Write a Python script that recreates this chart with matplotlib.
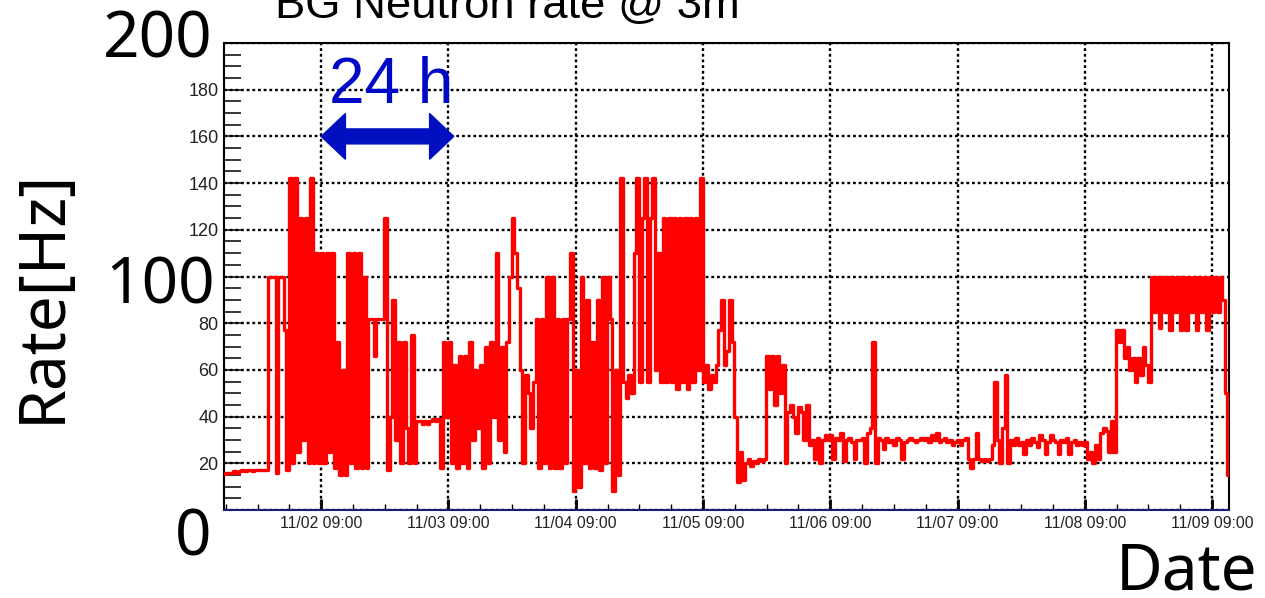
import numpy as np
import pandas as pd
import matplotlib
matplotlib.use('Agg')  # headless
import matplotlib.pyplot as plt
import matplotlib.dates as mdates
from matplotlib.patches import Polygon

plt.rcParams['font.family'] = ['Liberation Sans', 'DejaVu Sans']

# --- data: neutron rate [Hz], one reading every 30 min from 11/01 14:40 ---
start_time = '2016-11-01 14:40'
sample_step = '30min'
rate_hz = [
    15.5, 16, 16, 16, 16.5, 16, 16.5, 17, 16.5, 17, 17, 16.5,
    17, 17, 17, 17, 17, 100, 100, 100, 16, 100, 100, 77,
    17, 142, 20, 142, 25, 125, 30, 125, 20, 142, 20, 110,
    20, 110, 20, 110, 25, 110, 18, 72, 15, 60, 15, 110,
    20, 110, 18, 110, 18, 100, 18, 82, 82, 66, 82, 82,
    82, 125, 17, 40, 90, 30, 72, 20, 72, 35, 20, 75,
    20, 38, 38, 37, 38, 37, 38, 39, 38, 39, 18, 72,
    40, 72, 20, 62, 18, 66, 20, 66, 18, 72, 30, 60,
    35, 62, 18, 70, 20, 72, 40, 110, 30, 70, 25, 72,
    100, 125, 110, 95, 60, 20, 58, 50, 35, 55, 82, 18,
    82, 20, 100, 18, 100, 18, 82, 18, 82, 20, 82, 110,
    8, 60, 10, 100, 20, 90, 18, 72, 18, 90, 17, 100,
    20, 100, 82, 8, 60, 15, 142, 55, 48, 58, 50, 110,
    142, 55, 125, 142, 55, 125, 142, 60, 110, 55, 125, 55,
    125, 55, 125, 52, 125, 55, 125, 52, 125, 55, 125, 60,
    142, 55, 62, 52, 58, 55, 62, 77, 90, 62, 68, 90,
    72, 40, 12, 25, 13, 20, 22, 19, 21, 20, 22, 21,
    22, 66, 52, 66, 45, 66, 50, 62, 20, 42, 45, 40,
    33, 44, 42, 30, 45, 28, 30, 22, 31, 20, 30, 32,
    30, 32, 22, 31, 30, 33, 21, 30, 31, 29, 22, 30,
    30, 31, 20, 33, 35, 72, 20, 31, 30, 26, 31, 29,
    30, 28, 31, 30, 22, 29, 30, 31, 30, 29, 30, 31,
    30, 31, 29, 32, 30, 33, 29, 30, 31, 29, 30, 28,
    29, 30, 28, 30, 31, 22, 18, 22, 33, 22, 21, 22,
    21, 22, 28, 55, 30, 20, 35, 58, 20, 30, 28, 31,
    28, 29, 24, 30, 28, 31, 29, 27, 32, 30, 24, 29,
    32, 30, 29, 24, 30, 29, 31, 24, 29, 30, 28, 29,
    28, 29, 22, 25, 20, 28, 22, 33, 35, 34, 25, 38,
    25, 77, 72, 77, 65, 70, 60, 65, 55, 65, 58, 70,
    62, 55, 100, 85, 100, 78, 100, 85, 100, 77, 100, 85,
    100, 77, 100, 77, 100, 85, 100, 77, 100, 85, 100, 77,
    100, 85, 100, 85, 100, 90, 50, 15,
]

x_range = ['2016-11-01 14:40', '2016-11-09 12:12']
y_range = [0, 200]
y_major = list(range(0, 201, 20))
big_y_labels = ['200', '100', '0']
arrow_from = '2016-11-02 09:00'
arrow_hours = 25
arrow_level = 160

times = pd.date_range(start_time, periods=len(rate_hz), freq=sample_step)

W, H = 1265, 598
fig = plt.figure(figsize=(W / 100, H / 100), dpi=100)
ax = fig.add_axes([224 / W, 1 - 510 / H, (1229 - 224) / W, (510 - 43) / H])


def px(x, y):
    return x / W, 1 - y / H


ax.plot(times, rate_hz, color='#ff0000', lw=2.4, drawstyle='steps-mid', zorder=3)

ax.set_xlim(pd.Timestamp(x_range[0]), pd.Timestamp(x_range[1]))
ax.set_ylim(*y_range)

# ROOT style ticks and dotted grid
ax.xaxis.set_major_locator(mdates.HourLocator(byhour=[9]))
ax.xaxis.set_minor_locator(mdates.HourLocator(byhour=[3, 15, 21]))
ax.xaxis.set_major_formatter(mdates.DateFormatter('%m/%d %H:%M'))
ax.set_yticks(y_major)
ax.set_yticklabels(['' if v in (0, 100, 200) else str(v) for v in y_major])
ax.yaxis.set_minor_locator(matplotlib.ticker.MultipleLocator(5))

ax.tick_params(axis='y', which='both', direction='in', length=12, width=1.1,
               pad=4, labelsize=13, labelcolor='#222222')
ax.tick_params(axis='x', which='major', direction='in', length=8, width=2,
               pad=4, labelsize=11.3, labelcolor='#222222')
ax.tick_params(axis='x', which='minor', direction='in', length=4.5, width=1)

ax.grid(True, which='major', color='black', linestyle=(0, (1.2, 1.2)), linewidth=1.7)
for side in ['left', 'top', 'right']:
    ax.spines[side].set_linewidth(1.5)
    ax.spines[side].set_color('black')
ax.spines['bottom'].set_color('#1c1c78')
ax.spines['bottom'].set_linewidth(1.5)

# 24 h double arrow (data coords)
x0 = mdates.date2num(pd.Timestamp(arrow_from))
x1 = x0 + arrow_hours / 24
hl, hw, sw = 0.19, 9.8, 3.2
yc = arrow_level
arrow_pts = [(x0, yc), (x0 + hl, yc + hw), (x0 + hl, yc + sw), (x1 - hl, yc + sw),
             (x1 - hl, yc + hw), (x1, yc), (x1 - hl, yc - hw), (x1 - hl, yc - sw),
             (x0 + hl, yc - sw), (x0 + hl, yc - hw)]
ax.add_patch(Polygon(arrow_pts, closed=True, color='#0010c0', zorder=4, clip_on=False))

fig.text(*px(329, 103), '24 h', color='#0008c8', fontsize=46, ha='left',
         va='baseline', family=['Liberation Sans', 'DejaVu Sans'])

# slide overlay texts
big = dict(family=['Noto Sans', 'DejaVu Sans'], fontsize=46, color='black')
fig.text(*px(213, 58), big_y_labels[0], ha='right', va='baseline', **big)
fig.text(*px(215, 303), big_y_labels[1], ha='right', va='baseline', **big)
fig.text(*px(211, 555), big_y_labels[2], ha='right', va='baseline', **big)
fig.text(*px(43, 296), 'Rate[Hz]', rotation=90, ha='center', va='center', **big)
fig.text(*px(1116, 590), 'Date', ha='left', va='baseline', **big)
fig.text(*px(275, 18), 'BG Neutron rate @ 3m', fontsize=32.7, ha='left',
         va='baseline', color='black')

fig.savefig('out.png', dpi=100)
